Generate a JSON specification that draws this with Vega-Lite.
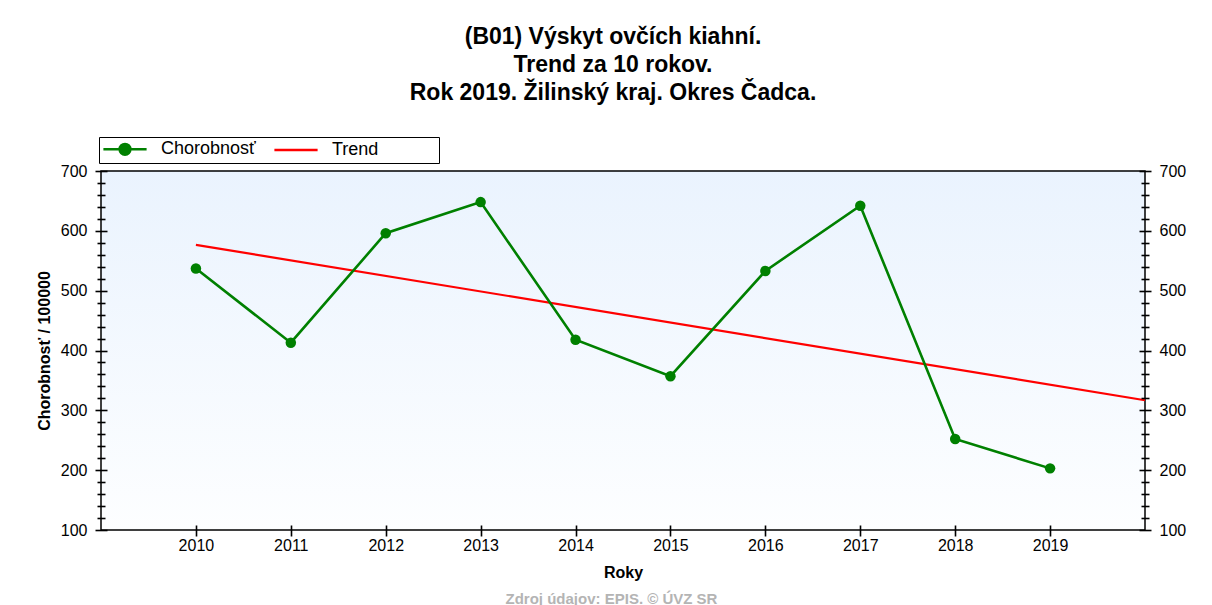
{
  "$schema": "https://vega.github.io/schema/vega-lite/v6.json",
  "width": 1044,
  "height": 359,
  "autosize": "none",
  "padding": {"left": 101, "top": 171, "right": 67, "bottom": 75},
  "background": "#ffffff",
  "title": {
    "text": ["(B01) Výskyt ovčích kiahní.", "Trend za 10 rokov.", "Rok 2019. Žilinský kraj. Okres Čadca."],
    "font": "Liberation Sans",
    "fontSize": 23,
    "fontWeight": "bold",
    "color": "#000000",
    "lineHeight": 28,
    "anchor": "middle",
    "frame": "group",
    "dx": -10,
    "offset": 32
  },
  "data": {
    "values": [
      {"year": 2010, "value": 537, "series": "Chorobnosť"},
      {"year": 2011, "value": 413, "series": "Chorobnosť"},
      {"year": 2012, "value": 596, "series": "Chorobnosť"},
      {"year": 2013, "value": 648, "series": "Chorobnosť"},
      {"year": 2014, "value": 418, "series": "Chorobnosť"},
      {"year": 2015, "value": 357, "series": "Chorobnosť"},
      {"year": 2016, "value": 533, "series": "Chorobnosť"},
      {"year": 2017, "value": 642, "series": "Chorobnosť"},
      {"year": 2018, "value": 252, "series": "Chorobnosť"},
      {"year": 2019, "value": 203, "series": "Chorobnosť"},
      {"year": 2010, "value": 576.6, "series": "Trend"},
      {"year": 2020, "value": 316.9, "series": "Trend"}
    ]
  },
  "layer": [
    {
      "data": {"values": [{}]},
      "mark": {
        "type": "rect",
        "stroke": "#000000",
        "strokeWidth": 1.5,
        "fill": {"gradient": "linear", "x1": 0, "y1": 0, "x2": 0, "y2": 1,
          "stops": [{"offset": 0, "color": "#eaf3fe"}, {"offset": 1, "color": "#fdfeff"}]}
      },
      "encoding": {
        "x": {"datum": 2009, "type": "quantitative",
          "scale": {"domain": [2009, 2020], "nice": false, "zero": false},
          "axis": {"orient": "bottom", "values": [2010, 2011, 2012, 2013, 2014, 2015, 2016, 2017, 2018, 2019],
            "format": "d", "offset": -5, "ticks": true, "tickSize": 11, "tickWidth": 1.6, "tickColor": "#000000", "domain": false,
            "labelPadding": 1, "labelFontSize": 16, "zindex": 2,
            "title": "Roky", "titleFontSize": 16, "titleFontWeight": "bold", "titlePadding": 11}},
        "x2": {"datum": 2020},
        "y": {"datum": 100, "type": "quantitative",
          "scale": {"domain": [100, 700], "nice": false, "zero": false},
          "axis": {"orient": "left", "values": [100, 200, 300, 400, 500, 600, 700],
            "offset": -6, "ticks": true, "tickSize": 12, "tickWidth": 1.6, "tickColor": "#000000", "domain": false,
            "labelPadding": 8, "labelFontSize": 16, "zindex": 2,
            "title": "Chorobnosť / 100000", "titleFontSize": 16, "titleFontWeight": "bold", "titlePadding": 8}},
        "y2": {"datum": 700}
      }
    },
    {
      "transform": [{"filter": "datum.series === 'Trend'"}],
      "mark": {"type": "line", "strokeWidth": 2.2},
      "encoding": {
        "x": {"field": "year", "type": "quantitative",
          "scale": {"domain": [2009, 2020], "nice": false, "zero": false},
          "axis": {"orient": "bottom", "labels": false, "ticks": false, "domain": false,
            "title": "Zdroj údajov: EPIS. © ÚVZ SR", "titleColor": "#b4b4b4", "titleFontSize": 15,
            "titleFontWeight": "bold", "titlePadding": 61, "titleX": 510, "titleAlign": "center"}},
        "y": {"field": "value", "type": "quantitative",
          "scale": {"domain": [100, 700], "nice": false, "zero": false},
          "axis": {"orient": "left", "values": [120,140,160,180,220,240,260,280,320,340,360,380,420,440,460,480,520,540,560,580,620,640,660,680],
            "offset": -4, "ticks": true, "tickSize": 8, "tickWidth": 1.6, "tickColor": "#000000", "domain": false, "labels": false, "zindex": 2, "title": null}},
        "color": {"field": "series", "type": "nominal",
          "scale": {"domain": ["Chorobnosť", "Trend"], "range": ["#008000", "#ff0000"]}}
      }
    },
    {
      "transform": [{"filter": "datum.series === 'Chorobnosť'"}],
      "mark": {"type": "line", "strokeWidth": 2.6},
      "encoding": {
        "x": {"field": "year", "type": "quantitative",
          "scale": {"domain": [2009, 2020], "nice": false, "zero": false},
          "axis": null},
        "y": {"field": "value", "type": "quantitative",
          "scale": {"domain": [100, 700], "nice": false, "zero": false},
          "axis": {"orient": "right", "values": [100, 200, 300, 400, 500, 600, 700],
            "offset": -6, "ticks": true, "tickSize": 12, "tickWidth": 1.6, "tickColor": "#000000", "domain": false,
            "labelPadding": 8, "labelFontSize": 16, "zindex": 2, "title": null}},
        "color": {"field": "series", "type": "nominal",
          "scale": {"domain": ["Chorobnosť", "Trend"], "range": ["#008000", "#ff0000"]},
          "legend": {
            "title": "\u00a0", "titleOrient": "right", "titlePadding": 58, "titleFontSize": 18,
            "orient": "none", "legendX": -2, "legendY": -34, "direction": "horizontal",
            "strokeColor": "#000000", "fillColor": "#ffffff", "padding": 3,
            "labelFont": "Liberation Sans", "labelFontSize": 18, "labelColor": "#000000",
            "symbolSize": 144, "symbolStrokeWidth": 2.5, "symbolOffset": 14, "labelOffset": 27,
            "columnPadding": 13,
            "encode": {
              "symbols": {
                "update": {
                  "shape": {"signal": "datum.value === 'Trend' ? 'M-3.6,0H3.6' : 'M-3.6,0H3.6M-0.9,0A0.9,0.9 0 1,1 0.9,0A0.9,0.9 0 1,1 -0.9,0'"},
                  "fill": {"signal": "datum.value === 'Trend' ? 'transparent' : '#008000'"}
                }
              }
            }
          }}
      }
    },
    {
      "transform": [{"filter": "datum.series === 'Chorobnosť'"}],
      "mark": {"type": "point", "filled": true, "size": 110, "opacity": 1, "color": "#008000"},
      "encoding": {
        "x": {"field": "year", "type": "quantitative",
          "scale": {"domain": [2009, 2020], "nice": false, "zero": false},
          "axis": null},
        "y": {"field": "value", "type": "quantitative",
          "scale": {"domain": [100, 700], "nice": false, "zero": false},
          "axis": {"orient": "right", "values": [120,140,160,180,220,240,260,280,320,340,360,380,420,440,460,480,520,540,560,580,620,640,660,680],
            "offset": -4, "ticks": true, "tickSize": 8, "tickWidth": 1.6, "tickColor": "#000000", "domain": false, "labels": false, "zindex": 2, "title": null}}
      }
    }
  ],
  "resolve": {"axis": {"x": "independent", "y": "independent"}},
  "config": {
    "font": "Liberation Sans",
    "view": {"stroke": null},
    "axis": {"labelColor": "#000000", "domainColor": "#000000", "titleColor": "#000000", "grid": false, "zindex": 1, "labelFont": "Liberation Sans", "titleFont": "Liberation Sans"}
  }
}
